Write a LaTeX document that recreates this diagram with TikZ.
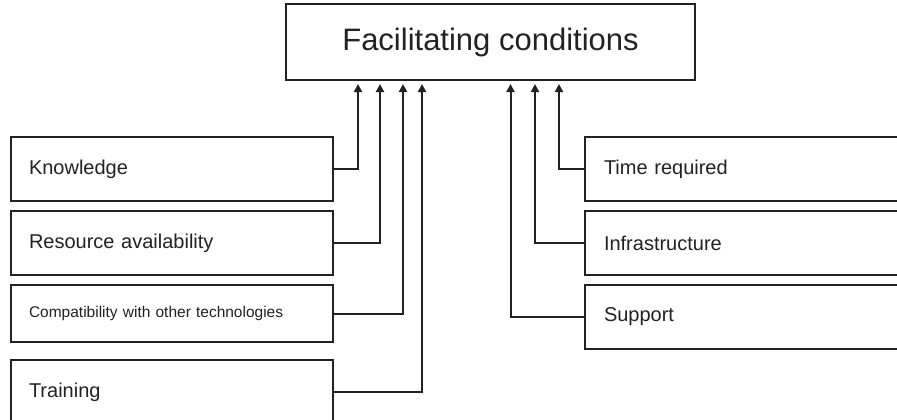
\documentclass[tikz,border=0pt]{standalone}
\usepackage{fontspec}
\setmainfont{Liberation Sans}
\usetikzlibrary{arrows.meta}
\begin{document}
\begin{tikzpicture}[x=1pt,y=-1pt,
  line width=2pt, draw={rgb,255:red,34;green,34;blue,34},
  every node/.style={text={rgb,255:red,34;green,34;blue,34}},
  titlebox/.style={draw, minimum width=409pt, minimum height=76pt, inner sep=0pt,
    font=\fontsize{31}{36}\selectfont},
  leftbox/.style={draw, minimum height=64pt, text width=286pt, inner xsep=18pt,
    align=left, font=\fontsize{20}{24}\selectfont},
  rightbox/.style={draw, minimum height=64pt, text width=282pt, inner xsep=19pt,
    align=left, font=\fontsize{20}{24}\selectfont},
  link/.style={-{Triangle[width=8pt,length=8pt]}, shorten >=3pt}]
\useasboundingbox (0,0) rectangle (897,420);
\clip (0,0) rectangle (897,420);
\fill[white] (0,0) rectangle (897,420);

% central factor
\node[titlebox] (main) at (490.5,42) {Facilitating conditions};

% factors on the left
\node[leftbox] (know) at (172,169) {Knowledge};
\node[leftbox] (res)  at (172,243) {Resource availability};
\node[leftbox, minimum height=57pt, font=\fontsize{15.5}{18}\selectfont] (comp) at (172,313.5)
  {Compatibility with other technologies};
\node[leftbox] (train) at (172,392) {Training};

% factors on the right
\node[rightbox] (time)  at (745,169) {Time required};
\node[rightbox] (infra) at (745,243) {Infrastructure};
\node[rightbox] (supp)  at (745,317) {Support};

% elbow connectors into the central box
\draw[link] (know.east)  -| ([xshift=-132.5pt]main.south);
\draw[link] (res.east)   -| ([xshift=-110.5pt]main.south);
\draw[link] (comp.east)  -| ([xshift=-87.5pt]main.south);
\draw[link] (train.east) -| ([xshift=-68.5pt]main.south);
\draw[link] (supp.west)  -| ([xshift=20pt]main.south);
\draw[link] (infra.west) -| ([xshift=44.5pt]main.south);
\draw[link] (time.west)  -| ([xshift=68.5pt]main.south);
\end{tikzpicture}
\end{document}
